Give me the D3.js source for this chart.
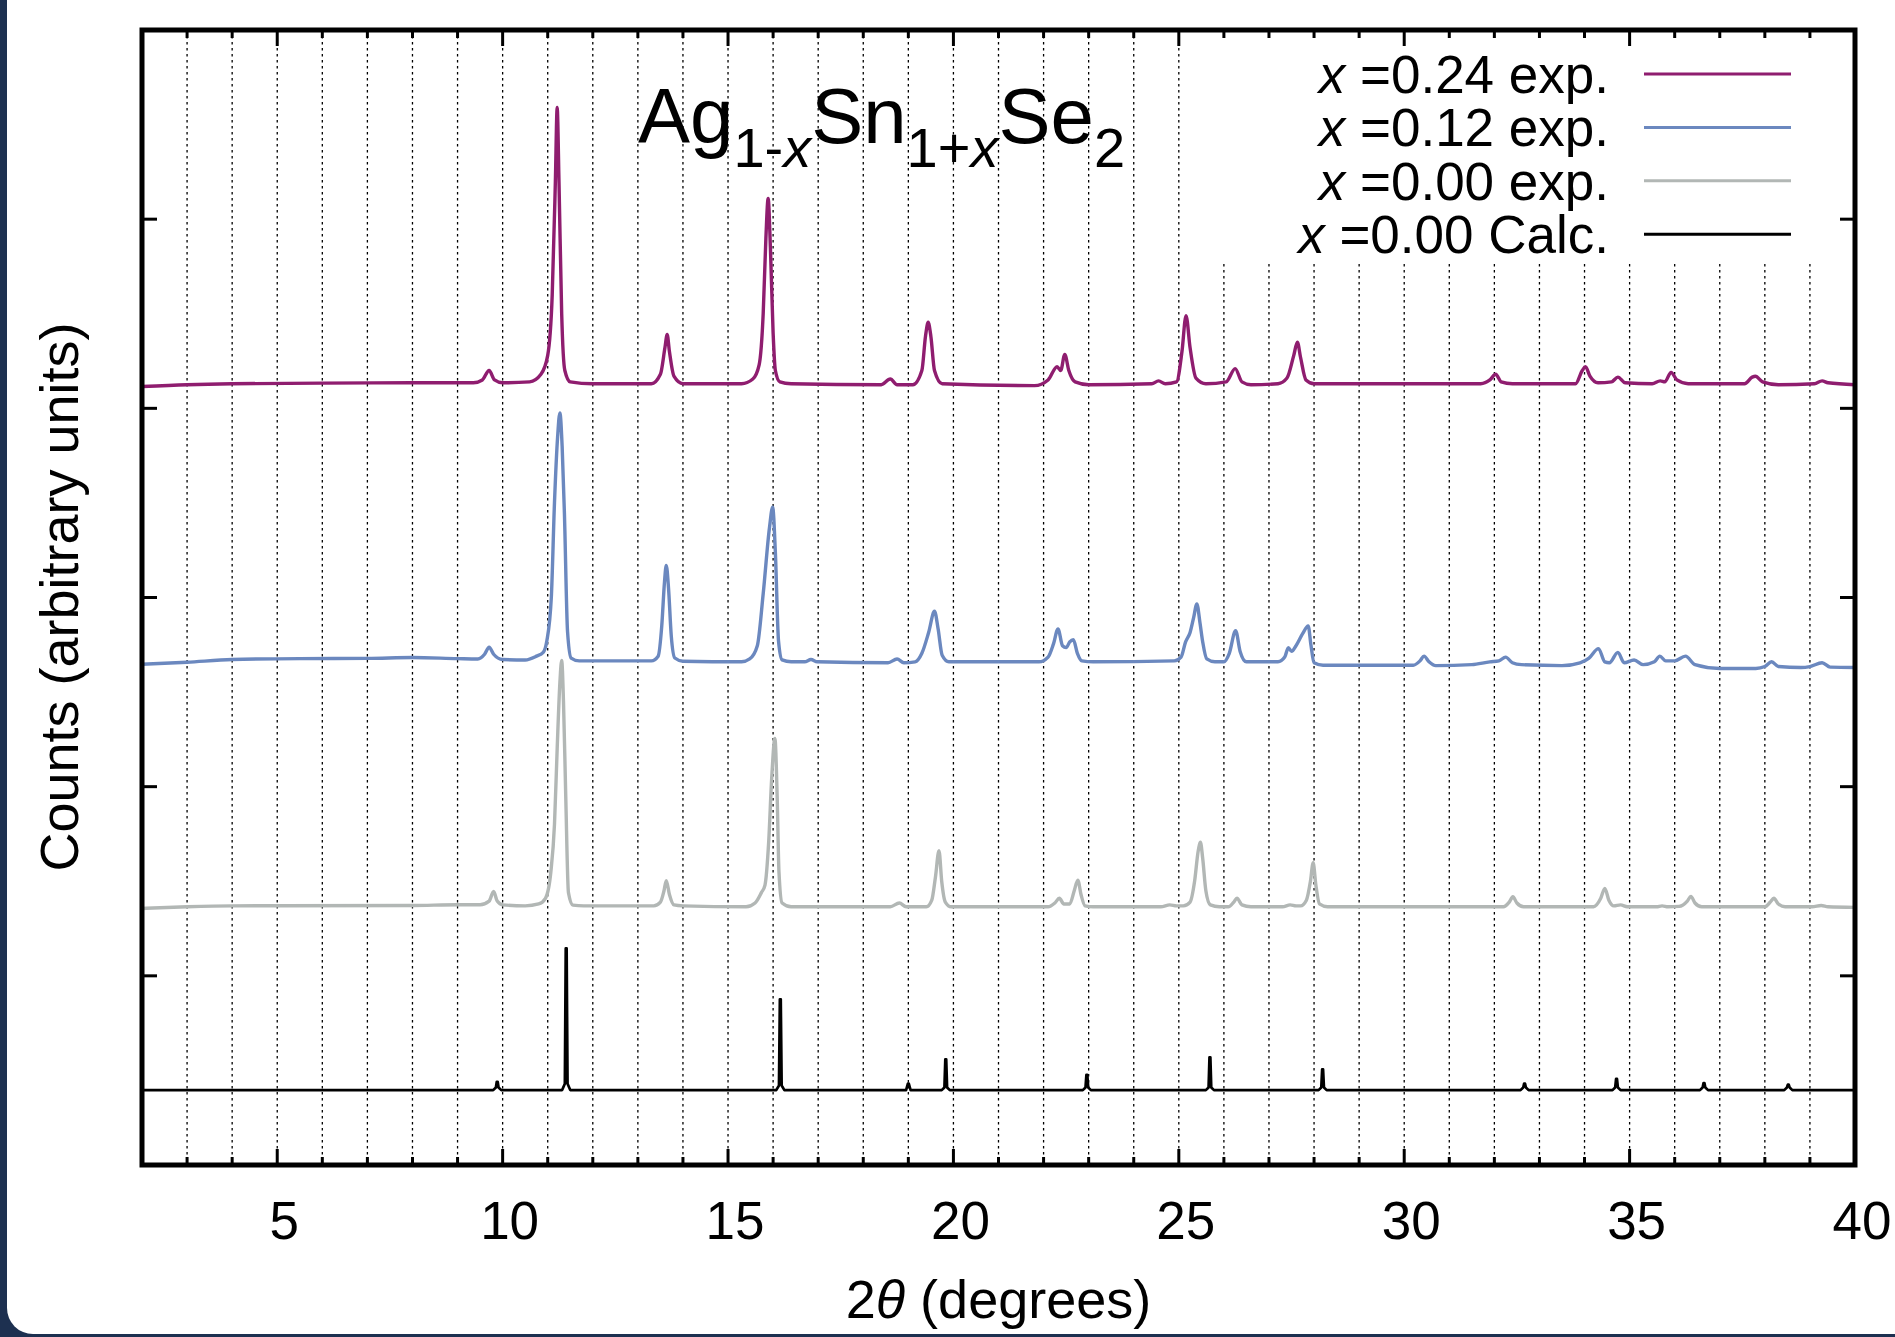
<!DOCTYPE html>
<html>
<head>
<meta charset="utf-8">
<script src="https://cdn.jsdelivr.net/npm/d3@7"></script>
<style>
  html, body { margin: 0; padding: 0; background: #1d3050; }
  svg { display: block; }
  text { font-family: "Liberation Sans", Arial, Helvetica, sans-serif; fill: #000; }
</style>
</head>
<body>
<svg id="chart"></svg>
<script>
// XRD patterns of Ag(1-x)Sn(1+x)Se2, offsets as in the figure (arbitrary units)
// [2theta, counts]

var x024 = [[2.0,4.115],[3.0,4.125],[4.0,4.13],[6.0,4.133],[8.0,4.135],[9.35,4.135],[9.55,4.15],[9.7,4.2],[9.82,4.15],[10.0,4.135],
  [10.6,4.14],[10.85,4.18],[11.0,4.28],[11.1,4.6],[11.17,5.2],[11.21,5.59],[11.25,5.2],[11.31,4.5],[11.38,4.2],[11.5,4.14],
  [12.0,4.13],[13.3,4.13],[13.5,4.18],[13.6,4.32],[13.65,4.39],[13.7,4.3],[13.8,4.17],[14.0,4.13],
  [15.3,4.13],[15.55,4.155],[15.69,4.23],[15.78,4.5],[15.84,4.9],[15.89,5.11],[15.94,4.85],[16.0,4.4],[16.05,4.2],[16.15,4.14],[16.4,4.13],
  [18.4,4.125],[18.6,4.155],[18.75,4.125],[19.1,4.125],[19.3,4.2],[19.38,4.38],[19.44,4.455],[19.5,4.38],[19.58,4.2],[19.75,4.13],
  [21.8,4.12],[22.1,4.15],[22.3,4.22],[22.38,4.2],[22.47,4.285],[22.56,4.2],[22.7,4.14],[23.0,4.125],
  [24.4,4.13],[24.55,4.145],[24.7,4.13],[24.95,4.14],[25.07,4.3],[25.16,4.49],[25.25,4.32],[25.38,4.16],[25.6,4.13],
  [26.05,4.14],[26.25,4.21],[26.4,4.14],[26.6,4.125],[27.2,4.13],[27.4,4.16],[27.55,4.28],[27.63,4.35],[27.7,4.27],[27.82,4.15],[28.0,4.13],
  [31.7,4.13],[31.9,4.15],[32.03,4.18],[32.15,4.14],[32.4,4.13],[33.8,4.13],[33.95,4.2],[34.02,4.22],[34.12,4.17],[34.3,4.135],
  [34.6,4.14],[34.74,4.165],[34.9,4.135],[35.5,4.13],[35.68,4.145],[35.78,4.14],[35.92,4.19],[36.05,4.15],[36.3,4.13],
  [37.55,4.13],[37.72,4.165],[37.79,4.17],[37.95,4.14],[38.3,4.125],[39.1,4.13],[39.27,4.145],[39.4,4.135],[40.0,4.125]];

var x012 = [[2.0,2.647],[3.0,2.658],[4.0,2.672],[5.5,2.677],[7.0,2.678],[8.0,2.683],[9.0,2.677],[9.45,2.675],[9.6,2.7],[9.7,2.737],[9.8,2.7],[10.0,2.672],
  [10.5,2.67],[10.75,2.69],[10.9,2.71],[10.98,2.77],[11.08,3.0],[11.15,3.5],[11.22,3.85],[11.27,3.976],[11.32,3.8],[11.37,3.45],[11.44,2.82],[11.52,2.68],[11.7,2.665],
  [13.3,2.665],[13.45,2.69],[13.53,2.85],[13.59,3.08],[13.63,3.17],[13.68,3.05],[13.74,2.8],[13.82,2.68],[14.0,2.663],
  [15.3,2.66],[15.48,2.675],[15.65,2.745],[15.78,3.02],[15.92,3.37],[15.99,3.477],[16.05,3.24],[16.12,2.77],[16.2,2.67],[16.4,2.66],
  [16.7,2.66],[16.84,2.672],[16.98,2.66],[18.55,2.655],[18.75,2.675],[18.9,2.655],
  [19.15,2.66],[19.3,2.705],[19.45,2.815],[19.58,2.927],[19.66,2.835],[19.75,2.695],[19.9,2.66],
  [21.9,2.66],[22.1,2.685],[22.22,2.755],[22.32,2.834],[22.42,2.745],[22.5,2.735],[22.58,2.765],[22.66,2.777],[22.75,2.705],[22.85,2.665],[23.1,2.66],
  [24.9,2.665],[25.05,2.685],[25.15,2.765],[25.25,2.815],[25.33,2.895],[25.4,2.966],[25.47,2.865],[25.53,2.765],[25.62,2.675],[25.8,2.66],
  [26.0,2.66],[26.12,2.705],[26.26,2.825],[26.36,2.715],[26.5,2.66],
  [27.2,2.66],[27.35,2.685],[27.43,2.735],[27.5,2.715],[27.6,2.745],[27.75,2.81],[27.87,2.85],[27.93,2.75],[28.0,2.655],[28.2,2.642],
  [30.2,2.642],[30.35,2.665],[30.44,2.69],[30.55,2.66],[30.7,2.64],[31.5,2.645],[31.9,2.66],[32.1,2.665],[32.25,2.685],[32.4,2.655],[32.6,2.645],
  [33.5,2.64],[33.9,2.655],[34.1,2.68],[34.31,2.73],[34.45,2.66],[34.55,2.655],[34.74,2.71],[34.88,2.655],[35.1,2.67],[35.3,2.645],
  [35.55,2.66],[35.67,2.69],[35.8,2.665],[36.0,2.665],[36.24,2.69],[36.45,2.645],[37.0,2.625],[37.8,2.625],
  [38.0,2.635],[38.15,2.66],[38.3,2.635],[38.8,2.63],[39.0,2.635],[39.27,2.655],[39.45,2.632],[40.0,2.63]];

var x000 = [[2.0,1.356],[3.0,1.365],[4.0,1.37],[8.0,1.372],[9.0,1.376],[9.5,1.376],[9.7,1.395],[9.8,1.446],[9.88,1.395],[10.0,1.375],
  [10.5,1.37],[10.8,1.38],[10.95,1.41],[11.07,1.55],[11.15,1.8],[11.21,2.2],[11.27,2.55],[11.31,2.667],[11.35,2.45],[11.4,1.95],[11.46,1.44],[11.56,1.374],[11.8,1.37],
  [13.35,1.37],[13.5,1.39],[13.58,1.45],[13.63,1.503],[13.7,1.43],[13.8,1.375],[14.0,1.37],
  [15.4,1.365],[15.6,1.385],[15.74,1.44],[15.82,1.48],[15.9,1.7],[15.97,2.05],[16.04,2.255],[16.09,1.95],[16.13,1.55],[16.2,1.385],[16.4,1.365],
  [18.6,1.365],[18.8,1.385],[18.95,1.365],[19.4,1.365],[19.52,1.4],[19.6,1.52],[19.68,1.661],[19.74,1.5],[19.82,1.39],[19.95,1.365],
  [22.1,1.365],[22.25,1.385],[22.35,1.41],[22.45,1.38],[22.58,1.38],[22.68,1.45],[22.76,1.506],[22.83,1.43],[22.92,1.37],[23.1,1.365],
  [24.6,1.365],[24.8,1.375],[24.95,1.37],[25.1,1.37],[25.25,1.39],[25.35,1.5],[25.43,1.66],[25.48,1.706],[25.53,1.62],[25.6,1.45],[25.7,1.375],[25.9,1.365],
  [26.1,1.365],[26.22,1.39],[26.29,1.41],[26.4,1.375],[26.6,1.365],[27.3,1.365],[27.47,1.375],[27.6,1.37],
  [27.7,1.37],[27.83,1.4],[27.92,1.5],[27.98,1.598],[28.04,1.48],[28.12,1.38],[28.3,1.365],
  [32.2,1.365],[32.33,1.39],[32.41,1.418],[32.5,1.385],[32.65,1.365],[34.2,1.365],[34.36,1.41],[34.45,1.462],[34.54,1.4],[34.65,1.37],[34.8,1.375],[34.95,1.365],
  [35.6,1.365],[35.72,1.37],[35.85,1.365],[36.1,1.367],[36.28,1.395],[36.36,1.42],[36.45,1.385],[36.6,1.365],
  [38.0,1.365],[38.12,1.39],[38.2,1.41],[38.3,1.38],[38.45,1.365],[39.05,1.365],[39.25,1.372],[39.4,1.365],[40.0,1.362]];

var calc000 = [[2.0,0.396],
  [9.79,0.396],[9.85,0.41],[9.87,0.44],[9.89,0.44],[9.91,0.41],[9.97,0.396],
  [11.32,0.396],[11.38,0.43],[11.40,1.145],[11.42,1.145],[11.44,0.43],[11.5,0.396],
  [16.07,0.396],[16.13,0.42],[16.15,0.876],[16.17,0.876],[16.19,0.42],[16.25,0.396],
  [18.95,0.396],[18.99,0.43],[19.01,0.43],[19.05,0.396],
  [19.74,0.396],[19.8,0.41],[19.82,0.559],[19.84,0.559],[19.86,0.41],[19.92,0.396],
  [22.87,0.396],[22.93,0.41],[22.95,0.476],[22.97,0.476],[22.99,0.41],[23.05,0.396],
  [25.6,0.396],[25.66,0.41],[25.68,0.569],[25.7,0.569],[25.72,0.41],[25.78,0.396],
  [28.1,0.396],[28.16,0.41],[28.18,0.506],[28.2,0.506],[28.22,0.41],[28.28,0.396],
  [32.58,0.396],[32.64,0.41],[32.66,0.43],[32.68,0.43],[32.7,0.41],[32.76,0.396],
  [34.62,0.396],[34.68,0.41],[34.7,0.455],[34.72,0.455],[34.74,0.41],[34.8,0.396],
  [36.56,0.396],[36.62,0.41],[36.64,0.433],[36.66,0.433],[36.68,0.41],[36.74,0.396],
  [38.43,0.396],[38.49,0.41],[38.51,0.425],[38.53,0.425],[38.55,0.41],[38.61,0.396],
  [40.0,0.396]];

var xLabelTicks = [5, 10, 15, 20, 25, 30, 35, 40];
var yTicks = [1, 2, 3, 4, 5];
var legendLabels = ["=0.24 exp.", "=0.12 exp.", "=0.00 exp.", "=0.00 Calc."];

var width = 1895, height = 1337;

var svg = d3.select("#chart")
    .attr("width", width)
    .attr("height", height);

// slide background with the white rounded panel
svg.append("rect")
    .attr("width", width).attr("height", height)
    .attr("fill", "#1d3050");
svg.append("rect")
    .attr("x", 7).attr("y", -40)
    .attr("width", width + 40).attr("height", height + 37)
    .attr("rx", 26)
    .attr("fill", "#fff");

var x = d3.scaleLinear().domain([2, 40]).range([142, 1855]);
var y = d3.scaleLinear().domain([0, 6]).range([1165, 30]);

var minorTicks = d3.range(3, 40);

// dotted vertical grid
svg.append("g")
    .selectAll("line")
    .data(minorTicks)
    .enter()
    .append("line")
    .attr("x1", function (d) { return x(d); })
    .attr("x2", function (d) { return x(d); })
    .attr("y1", y(6))
    .attr("y2", y(0))
    .attr("stroke", "#000")
    .attr("stroke-width", 1.3)
    .attr("stroke-dasharray", "2.5,3.5");

// opaque key box
svg.append("rect")
    .attr("x", 1202).attr("y", y(6))
    .attr("width", x(40) - 1202).attr("height", 233)
    .attr("fill", "#fff");

var series = [
    { data: calc000, color: "#000000", w: 2.7, curve: d3.curveLinear },
    { data: x000, color: "#b2b7b5", w: 3.4, curve: d3.curveMonotoneX },
    { data: x012, color: "#6b88bf", w: 3.4, curve: d3.curveMonotoneX },
    { data: x024, color: "#8f1d6f", w: 3.4, curve: d3.curveMonotoneX }
];

series.forEach(function (s) {
    var line = d3.line()
        .x(function (d) { return x(d[0]); })
        .y(function (d) { return y(d[1]); })
        .curve(s.curve);
    svg.append("path")
        .datum(s.data)
        .attr("d", line)
        .attr("fill", "none")
        .attr("stroke", s.color)
        .attr("stroke-width", s.w)
        .attr("stroke-linejoin", "round");
});

// ticks, mirrored on all four sides
var ticks = svg.append("g").attr("stroke", "#000").attr("stroke-width", 3);

function tickLen(d) { return d % 5 == 0 ? 16 : 8; }

ticks.selectAll(".tb").data(minorTicks).enter().append("line")
    .attr("x1", function (d) { return x(d); })
    .attr("x2", function (d) { return x(d); })
    .attr("y1", y(0))
    .attr("y2", function (d) { return y(0) - tickLen(d); });
ticks.selectAll(".tt").data(minorTicks).enter().append("line")
    .attr("x1", function (d) { return x(d); })
    .attr("x2", function (d) { return x(d); })
    .attr("y1", y(6))
    .attr("y2", function (d) { return y(6) + tickLen(d); });
ticks.selectAll(".tl").data(yTicks).enter().append("line")
    .attr("x1", x(2)).attr("x2", x(2) + 15)
    .attr("y1", function (d) { return y(d); })
    .attr("y2", function (d) { return y(d); });
ticks.selectAll(".tr").data(yTicks).enter().append("line")
    .attr("x1", x(40)).attr("x2", x(40) - 15)
    .attr("y1", function (d) { return y(d); })
    .attr("y2", function (d) { return y(d); });

// frame
svg.append("rect")
    .attr("x", x(2)).attr("y", y(6))
    .attr("width", x(40) - x(2)).attr("height", y(0) - y(6))
    .attr("fill", "none")
    .attr("stroke", "#000")
    .attr("stroke-width", 5);

// tick labels
svg.append("g")
    .selectAll("text")
    .data(xLabelTicks)
    .enter()
    .append("text")
    .attr("x", function (d) { return x(d) + 7; })
    .attr("y", 1239)
    .attr("text-anchor", "middle")
    .style("font-size", "53px")
    .text(function (d) { return d; });

// axis titles
var xt = svg.append("text")
    .attr("x", (x(2) + x(40)) / 2)
    .attr("y", 1318)
    .attr("text-anchor", "middle")
    .style("font-size", "54px");
xt.append("tspan").text("2");
xt.append("tspan").style("font-style", "italic").text("\u03b8");
xt.append("tspan").text(" (degrees)");

svg.append("text")
    .attr("transform", "translate(78,597) rotate(-90)")
    .attr("text-anchor", "middle")
    .style("font-size", "54px")
    .text("Counts (arbitrary units)");

// formula title
var title = svg.append("text")
    .attr("x", 638).attr("y", 143)
    .style("font-size", "78px");
title.append("tspan").text("Ag");
title.append("tspan").attr("dy", 24).style("font-size", "56px").text("1-");
title.append("tspan").style("font-size", "56px").style("font-style", "italic").text("x");
title.append("tspan").attr("dy", -24).text("Sn");
title.append("tspan").attr("dy", 24).style("font-size", "56px").text("1+");
title.append("tspan").style("font-size", "56px").style("font-style", "italic").text("x");
title.append("tspan").attr("dy", -24).text("Se");
title.append("tspan").attr("dy", 24).style("font-size", "56px").text("2");

// key
var keyColors = ["#8f1d6f", "#6b88bf", "#b2b7b5", "#000000"];
var key = svg.append("g");
legendLabels.forEach(function (lab, i) {
    var by = 93 + i * 53.4;
    var t = key.append("text")
        .attr("x", 1609).attr("y", by)
        .attr("text-anchor", "end")
        .style("font-size", "53px");
    t.append("tspan").style("font-style", "italic").text("x");
    t.append("tspan").text(" " + lab);
    key.append("line")
        .attr("x1", 1644).attr("x2", 1791)
        .attr("y1", by - 19).attr("y2", by - 19)
        .attr("stroke", keyColors[i])
        .attr("stroke-width", 3);
});
</script>
</body>
</html>
